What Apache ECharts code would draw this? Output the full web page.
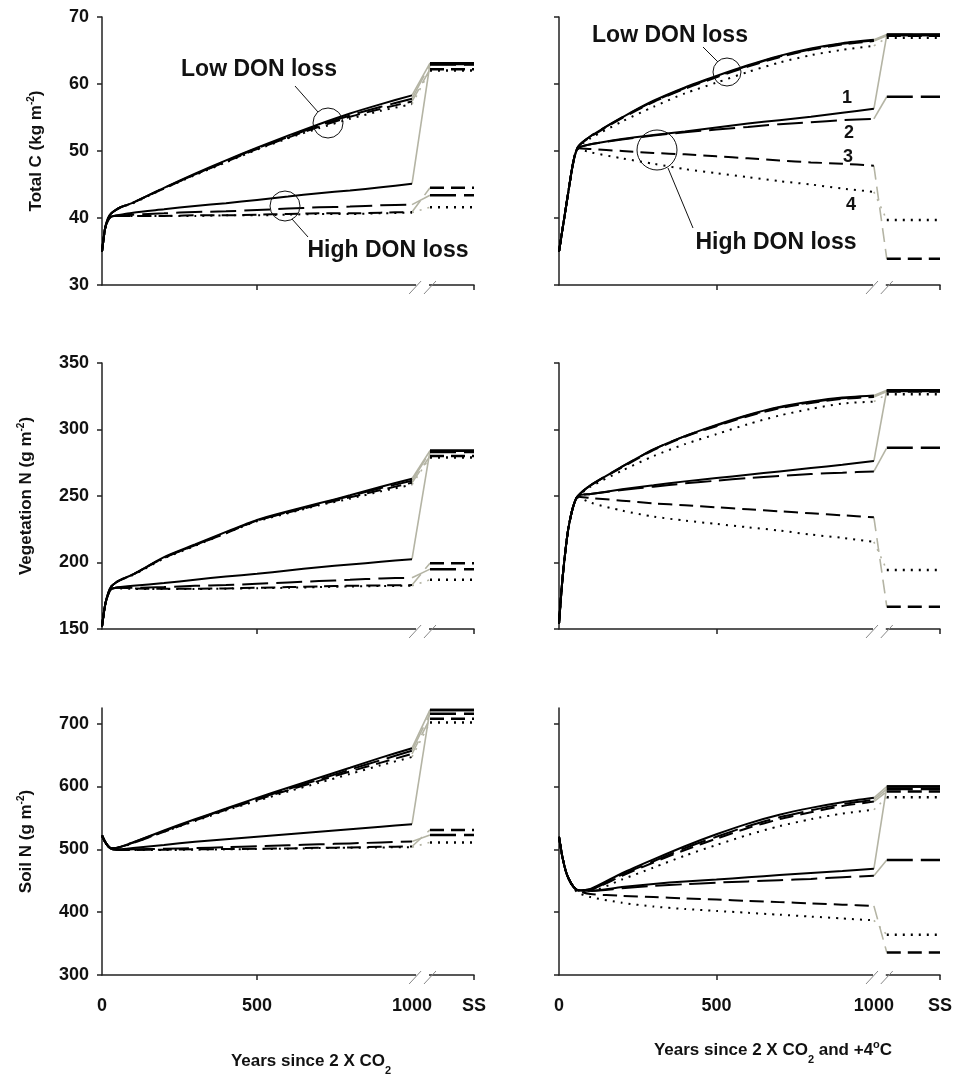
<!DOCTYPE html>
<html>
<head>
<meta charset="utf-8">
<script src="https://cdn.jsdelivr.net/npm/echarts@6.0.0/dist/echarts.min.js"></script>
<style>
  html,body{margin:0;padding:0;background:#fff;}
  #main{width:955px;height:1078px;}
</style>
</head>
<body>
<div id="main"></div>
<script>
// years of the transient run (0-1000), shared by every curve
const years = [0, 10, 20, 30, 45, 60, 100, 200, 300, 400, 500, 600, 700, 800, 900, 1000];

// Total C (kg m-2), 2 x CO2
const totC_co2_low = [
  [35.0, 38.5, 40.0, 40.7, 41.2, 41.6, 42.3, 44.5, 46.6, 48.6, 50.5, 52.3, 54.0, 55.6, 57.0, 58.3],
  [35.0, 38.5, 40.0, 40.7, 41.2, 41.6, 42.3, 44.5, 46.5, 48.5, 50.4, 52.1, 53.8, 55.3, 56.6, 57.8],
  [35.0, 38.5, 40.0, 40.7, 41.2, 41.6, 42.3, 44.4, 46.5, 48.4, 50.3, 52.0, 53.6, 55.1, 56.3, 57.4],
  [35.0, 38.5, 40.0, 40.7, 41.2, 41.6, 42.2, 44.4, 46.4, 48.3, 50.2, 51.9, 53.4, 54.8, 56.0, 57.0]
];
const totC_co2_lowSS = [63.1, 62.9, 62.2, 62.0];
const totC_co2_high = [
  [35.0, 38.4, 39.7, 40.2, 40.4, 40.5, 40.8, 41.3, 41.8, 42.2, 42.7, 43.2, 43.7, 44.1, 44.6, 45.1],
  [35.0, 38.4, 39.7, 40.2, 40.3, 40.4, 40.5, 40.7, 40.9, 41.0, 41.2, 41.4, 41.6, 41.7, 41.9, 42.0],
  [35.0, 38.4, 39.7, 40.2, 40.3, 40.3, 40.3, 40.3, 40.4, 40.4, 40.5, 40.6, 40.7, 40.7, 40.8, 40.9],
  [35.0, 38.4, 39.7, 40.2, 40.3, 40.3, 40.3, 40.3, 40.3, 40.4, 40.4, 40.5, 40.6, 40.6, 40.7, 40.8]
];
const totC_co2_highSS = [63.0, 43.4, 44.5, 41.6];

// Total C, 2 x CO2 and +4 C
const totC_warm_low = [
  [35.0, 38.0, 41.0, 44.0, 48.3, 50.6, 52.2, 55.0, 57.5, 59.5, 61.2, 62.8, 64.2, 65.3, 66.1, 66.6],
  [35.0, 38.0, 41.0, 44.0, 48.3, 50.6, 52.2, 55.0, 57.4, 59.4, 61.1, 62.7, 64.1, 65.2, 66.0, 66.5],
  [35.0, 38.0, 41.0, 44.0, 48.3, 50.6, 52.1, 54.9, 57.3, 59.3, 61.0, 62.6, 64.0, 65.1, 65.9, 66.4],
  [35.0, 38.0, 41.0, 44.0, 48.3, 50.5, 51.9, 54.4, 56.6, 58.6, 60.2, 61.8, 63.2, 64.3, 65.1, 65.7]
];
const totC_warm_lowSS = [67.4, 67.3, 67.2, 66.9];
const totC_warm_high = [
  [35.0, 38.0, 41.0, 44.0, 48.2, 50.4, 51.0, 51.8, 52.4, 52.9, 53.5, 54.1, 54.6, 55.1, 55.7, 56.3],
  [35.0, 38.0, 41.0, 44.0, 48.2, 50.4, 51.0, 51.7, 52.3, 52.8, 53.2, 53.6, 54.0, 54.3, 54.6, 54.8],
  [35.0, 38.0, 41.0, 44.0, 48.2, 50.4, 50.3, 50.0, 49.7, 49.5, 49.2, 48.9, 48.6, 48.3, 48.1, 47.8],
  [35.0, 38.0, 41.0, 44.0, 48.2, 50.3, 49.8, 48.9, 48.1, 47.3, 46.7, 46.1, 45.5, 45.0, 44.4, 43.9]
];
const totC_warm_highSS = [67.3, 58.1, 33.9, 39.7];

// Vegetation N (g m-2), 2 x CO2
const vegN_co2_low = [
  [152, 168, 177, 182, 185, 187, 191, 204, 213.5, 223, 232, 238.5, 244.5, 250.5, 257, 263],
  [152, 168, 177, 182, 185, 187, 191, 203.5, 213, 222.5, 231.5, 238, 244, 250, 256, 261.5],
  [152, 168, 177, 182, 185, 187, 191, 203.5, 213, 222, 231.5, 237.5, 243.5, 249, 254.5, 260],
  [152, 168, 177, 182, 185, 187, 190.5, 203, 212.5, 222, 231, 237, 243, 248, 253.5, 258.5]
];
const vegN_co2_lowSS = [284, 283, 280, 279];
const vegN_co2_high = [
  [152, 168, 176, 180, 181, 181.5, 182.5, 184.5, 187, 189.5, 191.5, 194, 196.5, 198.5, 200.5, 202.5],
  [152, 168, 176, 180, 181, 181, 181, 181.5, 182.5, 183, 184, 185, 186, 187, 188, 188.5],
  [152, 168, 176, 180, 181, 181, 180.5, 180.3, 180.3, 180.5, 181, 181.5, 182, 182.5, 182.8, 183],
  [152, 168, 176, 180, 181, 180.5, 180.2, 180, 180, 180.3, 180.7, 181, 181.5, 182, 182.3, 182.5]
];
const vegN_co2_highSS = [284, 195, 199.5, 187];

// Vegetation N, 2 x CO2 and +4 C
const vegN_warm_low = [
  [154, 185, 208, 226, 242, 250, 258, 272, 285, 295, 303.5, 311, 317, 321, 324, 325.5],
  [154, 185, 208, 226, 242, 250, 258, 272, 285, 295, 303, 310.5, 316.5, 320.5, 323.5, 325],
  [154, 185, 208, 226, 242, 250, 258, 271.5, 284.5, 294.5, 302.5, 310, 316, 320, 323, 324.5],
  [154, 185, 208, 226, 242, 249.5, 257, 269, 280, 289, 296.5, 304, 310.5, 315.5, 319.5, 321]
];
const vegN_warm_lowSS = [329.5, 329, 328.5, 326.5];
const vegN_warm_high = [
  [154, 185, 208, 226, 242, 250, 251.5, 255, 258, 261, 263.5, 266, 268.5, 271, 273.5, 276.3],
  [154, 185, 208, 226, 242, 250, 251.5, 254.5, 257, 259.5, 261.5, 263.5, 265, 266.5, 267.5, 268.5],
  [154, 185, 208, 226, 242, 249.5, 248.5, 246.5, 244.5, 243, 241.5, 240, 238.5, 237, 235.5, 234],
  [154, 185, 208, 226, 242, 249, 245, 239, 234.5, 231.5, 229, 226.5, 224, 221, 218.5, 215.5]
];
const vegN_warm_highSS = [329.5, 286.3, 166.8, 194.4];

// Soil N (g m-2), 2 x CO2
const soilN_co2_low = [
  [522, 512, 505, 502, 502, 504, 511, 530, 548, 565, 582, 598, 614, 630, 646, 661],
  [522, 512, 505, 502, 502, 504, 511, 529, 547, 564, 580, 596, 611, 627, 642, 657],
  [522, 512, 505, 502, 502, 504, 510, 528, 546, 563, 579, 594, 609, 624, 638, 652],
  [522, 512, 505, 502, 502, 503, 510, 528, 545, 562, 577, 592, 606, 620, 634, 647]
];
const soilN_co2_lowSS = [722, 716, 708, 702];
const soilN_co2_high = [
  [522, 512, 505, 501, 499.5, 500, 502, 507, 512, 516, 520, 524, 528, 532, 536, 540],
  [522, 512, 505, 501, 499.5, 499.5, 500, 501, 502, 503.5, 505, 506.5, 508, 509.5, 511, 512.5],
  [522, 512, 505, 501, 499.5, 499, 499, 499.5, 500, 500.5, 501, 501.5, 502.5, 503, 504, 504.5],
  [522, 512, 505, 501, 499.5, 499, 499, 499, 499.5, 500, 500.5, 501, 502, 502.5, 503, 503.5]
];
const soilN_co2_highSS = [722, 523, 531, 511];

// Soil N, 2 x CO2 and +4 C
const soilN_warm_low = [
  [520, 490, 468, 454, 441, 435, 437, 462, 484, 505, 524, 541, 555, 566, 575, 582],
  [520, 490, 468, 454, 441, 435, 436, 460, 481, 502, 520, 537, 551, 562, 572, 579],
  [520, 490, 468, 454, 441, 435, 436, 458, 479, 499, 517, 534, 548, 559, 569, 576],
  [520, 490, 468, 454, 441, 434, 434, 452, 471, 490, 507, 523, 537, 548, 557, 563]
];
const soilN_warm_lowSS = [600, 596, 592, 583];
const soilN_warm_high = [
  [520, 490, 468, 454, 441, 435, 434, 440, 445, 449, 452, 455.5, 459, 462.5, 465.5, 469],
  [520, 490, 468, 454, 441, 435, 434, 438, 442, 444.5, 447, 449, 451, 453, 455.5, 458],
  [520, 490, 468, 454, 441, 434, 429, 426, 424, 422, 420, 418, 416, 414, 412, 410],
  [520, 490, 468, 454, 440, 431, 424, 415, 409, 405, 402, 399, 396, 393, 390, 387]
];
const soilN_warm_highSS = [600, 483, 336, 364];

// axis settings
const yMin = [30, 150, 300];
const yMax = [70, 350, 725];
const yStep = [10, 50, 100];
const yTicks = [[30, 40, 50, 60, 70], [150, 200, 250, 300, 350], [300, 400, 500, 600, 700]];
const xMax = [1200, 1210];          // position of the "SS" end of each column
const ssStart = [1058, 1041];        // where the steady state lines begin
const breakFrom = [1010, 994];       // start of the axis break
const xLabels = [0, 500, 1000];

const panels = [
  [totC_co2_low, totC_co2_lowSS, totC_co2_high, totC_co2_highSS],
  [totC_warm_low, totC_warm_lowSS, totC_warm_high, totC_warm_highSS],
  [vegN_co2_low, vegN_co2_lowSS, vegN_co2_high, vegN_co2_highSS],
  [vegN_warm_low, vegN_warm_lowSS, vegN_warm_high, vegN_warm_highSS],
  [soilN_co2_low, soilN_co2_lowSS, soilN_co2_high, soilN_co2_highSS],
  [soilN_warm_low, soilN_warm_lowSS, soilN_warm_high, soilN_warm_highSS]
];

const dashes = ['solid', [26, 8], [14, 7], [2, 6]];
const FONT = 'Liberation Sans, Arial, sans-serif';
const grey = '#b4b4a4';

const gridPos = [
  {left: 102, width: 372, top: 17, height: 268},
  {left: 559, width: 381, top: 17, height: 268},
  {left: 102, width: 372, top: 363, height: 266},
  {left: 559, width: 381, top: 363, height: 266},
  {left: 102, width: 372, top: 708, height: 267},
  {left: 559, width: 381, top: 708, height: 267}
];

const yNames = [
  '{a|Total C (kg m}{s|-2}{a|)}',
  '{a|Vegetation N (g m}{s|-2}{a|)}',
  '{a|Soil N (g m}{s|-2}{a|)}'
];
const nameRich = {
  a: {fontFamily: FONT, fontWeight: 'bold', fontSize: 17, color: '#111', lineHeight: 20},
  s: {fontFamily: FONT, fontWeight: 'bold', fontSize: 10, color: '#111', lineHeight: 10, verticalAlign: 'top'}
};

const grids = [], xAxes = [], yAxes = [], series = [];

panels.forEach(function (p, g) {
  const row = Math.floor(g / 2), col = g % 2;
  grids.push(Object.assign({outerBoundsMode: 'none'}, gridPos[g]));
  const mx = xMax[col];
  xAxes.push({
    type: 'value', gridIndex: g, min: 0, max: mx,
    splitLine: {show: false},
    axisLine: {show: true, lineStyle: {color: '#222', width: 1.5}},
    axisTick: {show: true, length: 5, customValues: [500, mx], lineStyle: {color: '#222', width: 1.5}},
    axisLabel: {
      show: row === 2, margin: 22, customValues: xLabels.concat([mx]),
      fontFamily: FONT, fontWeight: 'bold', fontSize: 18, color: '#111',
      formatter: function (v) { return v >= 1100 ? 'SS' : String(v); }
    }
  });
  yAxes.push({
    type: 'value', gridIndex: g, min: yMin[row], max: yMax[row], interval: yStep[row],
    splitLine: {show: false},
    axisLine: {show: true, lineStyle: {color: '#222', width: 1.5}},
    axisTick: {show: true, length: 5, customValues: yTicks[row], lineStyle: {color: '#222', width: 1.5}},
    axisLabel: {
      show: col === 0, margin: 13, customValues: yTicks[row],
      fontFamily: FONT, fontWeight: 'bold', fontSize: 18, color: '#111'
    },
    name: col === 0 ? yNames[row] : '',
    nameLocation: 'middle',
    nameGap: row === 0 ? 56 : 66,
    nameTextStyle: {rich: nameRich}
  });

  [[p[0], p[1]], [p[2], p[3]]].forEach(function (set) {
    set[0].forEach(function (vals, k) {
      const last = vals[vals.length - 1];
      const ss = set[1][k];
      series.push({
        type: 'line', xAxisIndex: g, yAxisIndex: g, silent: true, animation: false,
        symbol: 'none', z: 2,
        data: [[1000, last], [ssStart[col], ss]],
        lineStyle: {color: grey, width: 1.6, type: dashes[k]}
      });
      series.push({
        type: 'line', xAxisIndex: g, yAxisIndex: g, silent: true, animation: false,
        symbol: 'none', smooth: 0.25, z: 3,
        data: years.map(function (x, j) { return [x, vals[j]]; }),
        lineStyle: {color: '#000', width: 2, type: dashes[k]}
      });
      series.push({
        type: 'line', xAxisIndex: g, yAxisIndex: g, silent: true, animation: false,
        symbol: 'none', z: 3,
        data: [[ssStart[col], ss], [mx, ss]],
        lineStyle: {color: '#000', width: 2.5, type: dashes[k]}
      });
    });
  });
});

const chart = echarts.init(document.getElementById('main'), null, {renderer: 'canvas'});
chart.setOption({
  backgroundColor: '#fff',
  animation: false,
  grid: grids,
  xAxis: xAxes,
  yAxis: yAxes,
  series: series
});

// axis breaks, annotations and x titles
const gfx = [];
panels.forEach(function (p, g) {
  const row = Math.floor(g / 2), col = g % 2;
  const a = chart.convertToPixel({gridIndex: g}, [breakFrom[col], yMin[row]]);
  const b = chart.convertToPixel({gridIndex: g}, [ssStart[col], yMin[row]]);
  gfx.push({type: 'line', z: 100, shape: {x1: a[0] + 1, y1: a[1], x2: b[0] - 1, y2: b[1]},
    style: {stroke: '#fff', lineWidth: 5}});
  [a[0], b[0]].forEach(function (x) {
    gfx.push({type: 'line', z: 101, shape: {x1: x - 6, y1: a[1] + 9, x2: x + 6, y2: a[1] - 4},
      style: {stroke: '#888', lineWidth: 1}});
  });
});

const bigFont = {fontFamily: FONT, fontWeight: 'bold', fontSize: 23, fill: '#111'};
function label(txt, x, y, size) {
  return {type: 'text', z: 110, x: x, y: y,
    style: Object.assign({}, bigFont, {text: txt, fontSize: size || 23, align: 'center', verticalAlign: 'middle'})};
}
function circle(cx, cy, r) {
  return {type: 'circle', z: 110, shape: {cx: cx, cy: cy, r: r}, style: {fill: 'none', stroke: '#111', lineWidth: 1}};
}
function seg(x1, y1, x2, y2) {
  return {type: 'line', z: 110, shape: {x1: x1, y1: y1, x2: x2, y2: y2}, style: {stroke: '#111', lineWidth: 1}};
}
gfx.push(
  label('Low DON loss', 259, 70), seg(295, 86, 318, 112), circle(328, 123, 15),
  label('High DON loss', 388, 251), circle(285, 206, 15), seg(292, 219, 308, 237),
  label('Low DON loss', 670, 36), seg(703, 47, 718, 62), circle(727, 72, 14),
  label('High DON loss', 776, 243), circle(657, 150, 20), seg(668, 168, 693, 228),
  label('1', 847, 98, 18), label('2', 849, 133, 18), label('3', 848, 157, 18), label('4', 851, 205, 18)
);

const titleRich = {
  a: {fontFamily: FONT, fontWeight: 'bold', fontSize: 17, fill: '#111', lineHeight: 22},
  b: {fontFamily: FONT, fontWeight: 'bold', fontSize: 11, fill: '#111', lineHeight: 22, verticalAlign: 'bottom', padding: [0, 0, -4, 0]},
  p: {fontFamily: FONT, fontWeight: 'bold', fontSize: 11, fill: '#111', lineHeight: 11, verticalAlign: 'top'}
};
gfx.push(
  {type: 'text', z: 110, x: 311, y: 1061, style: {text: '{a|Years since 2 X CO}{b|2}', rich: titleRich, align: 'center', verticalAlign: 'middle'}},
  {type: 'text', z: 110, x: 773, y: 1050, style: {text: '{a|Years since 2 X CO}{b|2}{a| and +4}{p|o}{a|C}', rich: titleRich, align: 'center', verticalAlign: 'middle'}}
);

chart.setOption({graphic: {elements: gfx}});
</script>
</body>
</html>
